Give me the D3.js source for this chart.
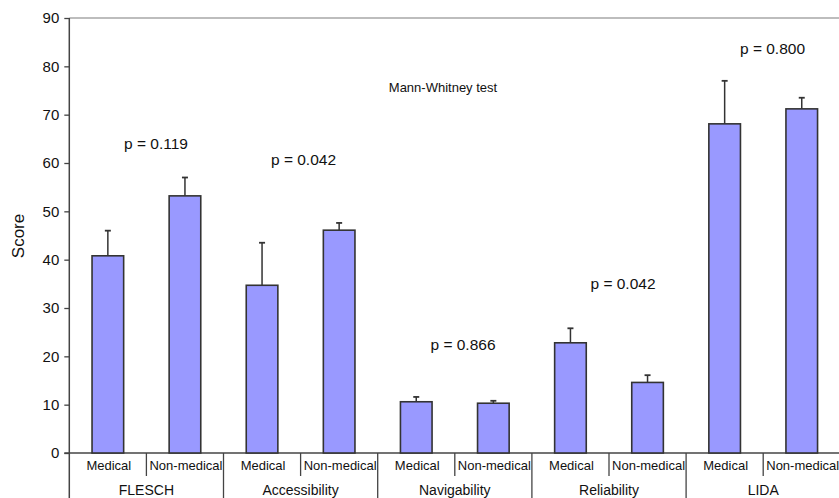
<!DOCTYPE html>
<html>
<head>
<meta charset="utf-8">
<script src="https://cdn.jsdelivr.net/npm/d3@7/dist/d3.min.js"></script>
<style>
  body { margin: 0; background: #fff; }
  svg { display: block; font-family: "Liberation Sans", Arial, Helvetica, sans-serif; }
</style>
</head>
<body>
<svg id="chart" width="839" height="498"></svg>
<script>
// ---- data ----
const categories = ["FLESCH", "Accessibility", "Navigability", "Reliability", "LIDA"];
const groups = ["Medical", "Non-medical"];
const medicalMean = [40.8, 34.7, 10.6, 22.8, 68.1];
const medicalUpper = [46.0, 43.5, 11.6, 25.8, 77.0];
const nonMedicalMean = [53.2, 46.1, 10.3, 14.6, 71.2];
const nonMedicalUpper = [57.0, 47.6, 10.8, 16.1, 73.5];
const pValues = ["p = 0.119", "p = 0.042", "p = 0.866", "p = 0.042", "p = 0.800"];
const yTicks = [0, 10, 20, 30, 40, 50, 60, 70, 80, 90];

// ---- layout ----
const svg = d3.select("#chart");
const plotL = 69.3, plotR = 840.3, plotT = 18, plotB = 453;

const x = d3.scaleBand().domain(categories).range([plotL, plotR]).paddingInner(0).paddingOuter(0);
const xs = d3.scaleBand().domain(groups).range([0, x.bandwidth()]);
const y = d3.scaleLinear().domain([0, 90]).range([plotB, plotT]);
const barW = xs.bandwidth() * 0.41;

const rows = [];
categories.forEach((c, i) => {
  rows.push({cat: c, grp: groups[0], v: medicalMean[i], e: medicalUpper[i]});
  rows.push({cat: c, grp: groups[1], v: nonMedicalMean[i], e: nonMedicalUpper[i]});
});

// top border line
svg.append("line")
  .attr("x1", plotL).attr("x2", 839).attr("y1", y(90)).attr("y2", y(90))
  .attr("stroke", "#bdbdbd").attr("stroke-width", 2);

// y axis
const yAxis = d3.axisLeft(y).tickValues(yTicks).tickSize(5).tickPadding(5).tickFormat(d3.format("d"));
const gy = svg.append("g").attr("transform", `translate(${plotL},0)`).call(yAxis);
gy.select(".domain").remove();
gy.selectAll(".tick line").attr("stroke", "#444").attr("stroke-width", 1.3);
gy.selectAll(".tick text").attr("font-size", 15).attr("fill", "#111")
  .attr("font-family", "'Liberation Sans', Arial, sans-serif");

// left axis line running to the bottom
svg.append("line")
  .attr("x1", plotL).attr("x2", plotL).attr("y1", y(90)).attr("y2", 498)
  .attr("stroke", "#444").attr("stroke-width", 1.5);

// zero line
svg.append("line")
  .attr("x1", plotL - 5).attr("x2", 839).attr("y1", y(0)).attr("y2", y(0))
  .attr("stroke", "#444").attr("stroke-width", 1.3);

// error bars
const eb = svg.append("g");
rows.forEach(r => {
  const cx = x(r.cat) + xs(r.grp) + xs.bandwidth() / 2;
  eb.append("line").attr("x1", cx).attr("x2", cx).attr("y1", y(r.v)).attr("y2", y(r.e))
    .attr("stroke", "#333").attr("stroke-width", 1.5);
  eb.append("line").attr("x1", cx - 3).attr("x2", cx + 3).attr("y1", y(r.e)).attr("y2", y(r.e))
    .attr("stroke", "#333").attr("stroke-width", 1.8);
});

// bars
svg.append("g").selectAll("rect").data(rows).join("rect")
  .attr("x", d => x(d.cat) + xs(d.grp) + xs.bandwidth() / 2 - barW / 2)
  .attr("y", d => y(d.v))
  .attr("width", barW)
  .attr("height", d => y(0) - y(d.v))
  .attr("fill", "#9999ff")
  .attr("stroke", "#333")
  .attr("stroke-width", 1.6);

// separators
categories.forEach((c, i) => {
  const x0 = x(c);
  if (i > 0) {
    svg.append("line").attr("x1", x0).attr("x2", x0).attr("y1", y(0)).attr("y2", 498)
      .attr("stroke", "#444").attr("stroke-width", 1.3);
  }
  const xm = x0 + xs("Non-medical");
  svg.append("line").attr("x1", xm).attr("x2", xm).attr("y1", y(0)).attr("y2", 476)
    .attr("stroke", "#444").attr("stroke-width", 1.3);
});

// sub labels
rows.forEach(r => {
  svg.append("text")
    .attr("x", x(r.cat) + xs(r.grp) + xs.bandwidth() / 2 + 1)
    .attr("y", 470)
    .attr("text-anchor", "middle")
    .attr("font-size", 13)
    .attr("fill", "#111")
    .text(r.grp);
});

// category labels
categories.forEach(c => {
  svg.append("text")
    .attr("x", x(c) + x.bandwidth() / 2)
    .attr("y", 495)
    .attr("text-anchor", "middle")
    .attr("font-size", 14)
    .attr("fill", "#111")
    .text(c);
});

// p-value annotations (value-space height, pixel nudge)
const pAnnot = [
  {v: 62.8, dx: 9.6},
  {v: 59.5, dx: 2.9},
  {v: 21.3, dx: 8.2},
  {v: 34.0, dx: 14},
  {v: 82.6, dx: 9.3}
];
categories.forEach((c, i) => {
  svg.append("text")
    .attr("x", x(c) + x.bandwidth() / 2 + pAnnot[i].dx)
    .attr("y", y(pAnnot[i].v))
    .attr("text-anchor", "middle")
    .attr("font-size", 15.5)
    .attr("fill", "#111")
    .text(pValues[i]);
});

// test label
svg.append("text")
  .attr("x", 443)
  .attr("y", 92)
  .attr("text-anchor", "middle")
  .attr("font-size", 13)
  .attr("fill", "#111")
  .text("Mann-Whitney test");

// y title
svg.append("text")
  .attr("transform", `translate(24,236) rotate(-90)`)
  .attr("text-anchor", "middle")
  .attr("font-size", 17)
  .attr("fill", "#111")
  .text("Score");
</script>
</body>
</html>
